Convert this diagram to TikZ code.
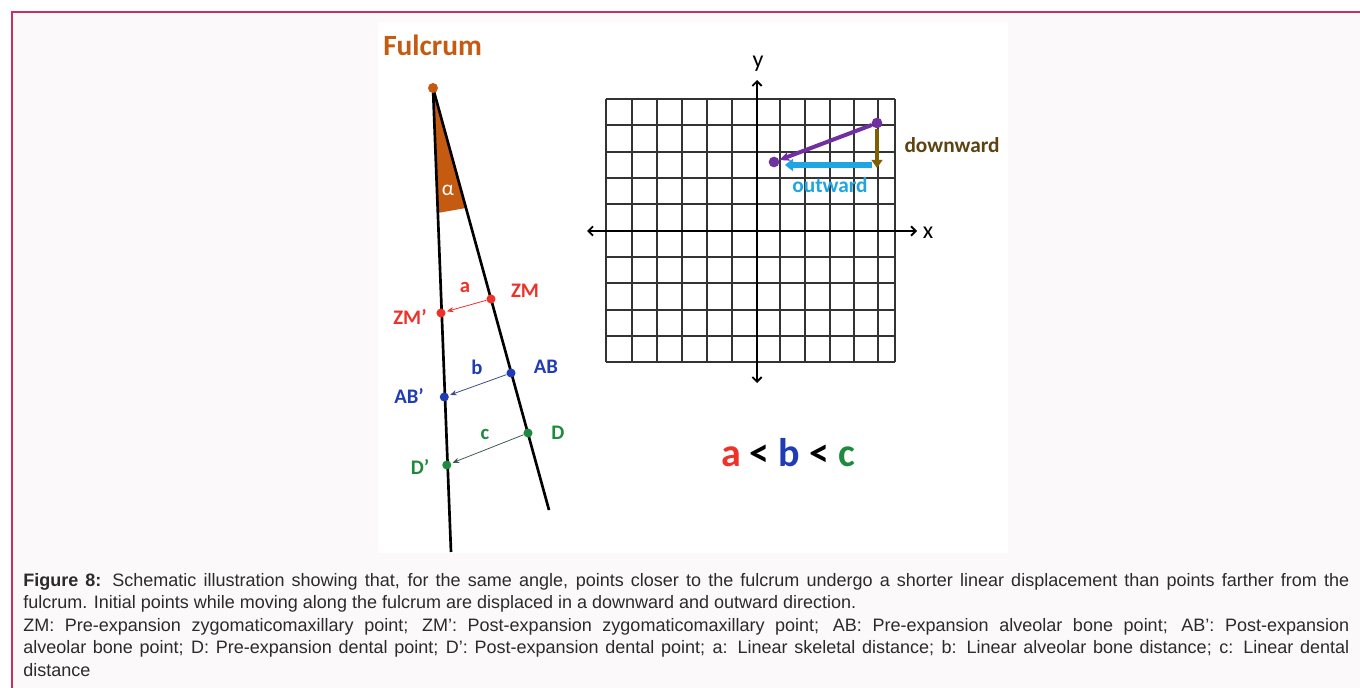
\documentclass[tikz,border=0pt]{standalone}
\usepackage{fontspec}
\setmainfont{Liberation Sans}
\newfontfamily\calfont{Carlito}
\usetikzlibrary{arrows.meta}
\definecolor{framec}{HTML}{C8305A}
\definecolor{bgp}{HTML}{FBF9FA}
\definecolor{fulc}{HTML}{C55A11}
\definecolor{zmred}{HTML}{EE3129}
\definecolor{abblue}{HTML}{1F3CB4}
\definecolor{dgreen}{HTML}{1E8A3E}
\definecolor{barrow}{HTML}{3C4D8C}
\definecolor{carrow}{HTML}{3D5A55}
\definecolor{purp}{HTML}{7030A0}
\definecolor{brn}{HTML}{7F6000}
\definecolor{brntext}{HTML}{5C4310}
\definecolor{cyn}{HTML}{1FA5E0}
\definecolor{capt}{HTML}{2B2B2B}
\definecolor{gridc}{HTML}{333333}
\tikzset{
  dot/.style={circle,inner sep=0pt,minimum size=6.8pt},
  lbl/.style={font=\calfont\bfseries\fontsize{15.5}{18}\selectfont,inner sep=0pt},
  capline/.style={anchor=base west,inner sep=0pt,text=capt,font=\fontsize{13.5}{17}\selectfont},
  thinarrow/.style={-{Stealth[length=5pt,width=4pt]},line width=0.6pt},
  axisarrow/.style={{Straight Barb[length=3.5pt,width=7pt]}-{Straight Barb[length=3.5pt,width=7pt]},line width=1.4pt,black},
}
\begin{document}
\begin{tikzpicture}[x=0.75pt,y=-0.75pt]
\useasboundingbox (0,0) rectangle (1360,688);
\fill[white] (0,0) rectangle (1360,688);
\fill[bgp] (12,12) rectangle (1360,688);
\draw[framec,line width=1.5pt] (12,688) -- (12,12) -- (1360,12);
\fill[white] (378,22) rectangle (1008,553);

% ---------- fulcrum ----------
\node[font=\calfont\bfseries\fontsize{22}{25}\selectfont,text=fulc,anchor=west,inner sep=0pt] (title) at (383,45) {Fulcrum};
\coordinate (apex) at (433,88);
\coordinate (Lend) at (451,552);
\coordinate (Rend) at (549,510);
\fill[fulc] (apex) -- (437.6,213) -- (466,208) -- cycle;
\node[font=\calfont\fontsize{16}{18}\selectfont,text=white,inner sep=0pt] (alpha) at (448,190) {α};
\draw[line width=2pt] (apex) -- (Lend);
\draw[line width=2pt] (apex) -- (Rend);
\node[dot,fill=fulc,minimum size=7.5pt] (F) at (apex) {};

\node[dot,fill=zmred] (ZM) at (491,299) {};
\node[dot,fill=zmred] (ZMp) at (441,313) {};
\node[dot,fill=abblue] (AB) at (511,373) {};
\node[dot,fill=abblue] (ABp) at (444.3,397) {};
\node[dot,fill=dgreen] (D) at (528,433) {};
\node[dot,fill=dgreen] (Dp) at (446.8,465) {};

\draw[thinarrow,zmred,shorten >=1pt] (ZM) -- (ZMp);
\draw[thinarrow,barrow,shorten >=1pt] (AB) -- (ABp);
\draw[thinarrow,carrow,shorten >=1pt] (D) -- (Dp);

\node[lbl,text=zmred] (la) at (465,287) {a};
\node[lbl,text=zmred] (lZM) at (525,291) {ZM};
\node[lbl,text=zmred] (lZMp) at (410,317) {ZM’};
\node[lbl,text=abblue] (lb) at (477,367) {b};
\node[lbl,text=abblue] (lAB) at (546,367) {AB};
\node[lbl,text=abblue] (lABp) at (409,396) {AB’};
\node[lbl,text=dgreen] (lc) at (485,434) {c};
\node[lbl,text=dgreen] (lD) at (558,433) {D};
\node[lbl,text=dgreen] (lDp) at (420,467) {D’};

% ---------- grid ----------
\foreach \x in {606,632,657,682,707,732,780,805,830,854,878,895}
  \draw[gridc,line width=1.1pt] (\x,99) -- (\x,362);
\foreach \y in {99,125,152,178,204,257,283,310,336,362}
  \draw[gridc,line width=1.1pt] (606,\y) -- (895,\y);
\coordinate (xl) at (587,231);
\coordinate (xr) at (917,231);
\coordinate (yt) at (757,80);
\coordinate (yb) at (757,383);
\draw[axisarrow] (xl) -- (xr);
\draw[axisarrow] (yb) -- (yt);
\node[font=\calfont\fontsize{18}{20}\selectfont,inner sep=0pt] (xlab) at (928,233) {x};
\node[font=\calfont\fontsize{18}{20}\selectfont,inner sep=0pt] (ylab) at (758,64) {y};

\node[dot,fill=purp,minimum size=8pt] (P1) at (877,123) {};
\node[dot,fill=purp,minimum size=8pt] (P2) at (774,162) {};
\draw[purp,line width=3pt,-{Stealth[length=8pt,width=7pt]}] (P1) -- (P2);
\coordinate (B1) at (877,129);
\coordinate (B2) at (877,168);
\draw[brn,line width=3.5pt,-{Triangle[length=6pt,width=8pt]}] (B1) -- (B2);
\coordinate (C1) at (872,165);
\coordinate (C2) at (785,165);
\draw[cyn,line width=4pt,-{Triangle[length=6pt,width=9pt]}] (C1) -- (C2);
\node[font=\calfont\bfseries\fontsize{16}{18}\selectfont,text=cyn,inner sep=0pt] (outw) at (830,185) {outward};
\node[font=\calfont\bfseries\fontsize{16}{18}\selectfont,text=brntext,inner sep=0pt] (downw) at (952,145) {downward};

\node[font=\calfont\bfseries\fontsize{30}{32}\selectfont,inner sep=0pt] (ineq) at (788,453) {\textcolor{zmred}{a} < \textcolor{abblue}{b} < \textcolor{dgreen}{c}};

% ---------- caption ----------
\node[capline] (cap1) at (23,586) {\makebox[994.5pt][s]{\textbf{Figure 8:} Schematic illustration showing that, for the same angle, points closer to the fulcrum undergo a shorter linear displacement than points farther from the}};
\node[capline] (cap2) at (23,608.5) {fulcrum. Initial points while moving along the fulcrum are displaced in a downward and outward direction.};
\node[capline] (cap3) at (23,631) {\makebox[994.5pt][s]{ZM: Pre-expansion zygomaticomaxillary point; ZM’: Post-expansion zygomaticomaxillary point; AB: Pre-expansion alveolar bone point; AB’: Post-expansion}};
\node[capline] (cap4) at (23,653.5) {\makebox[994.5pt][s]{alveolar bone point; D: Pre-expansion dental point; D’: Post-expansion dental point; a: Linear skeletal distance; b: Linear alveolar bone distance; c: Linear dental}};
\node[capline] (cap5) at (23,676) {distance};
\end{tikzpicture}
\end{document}
